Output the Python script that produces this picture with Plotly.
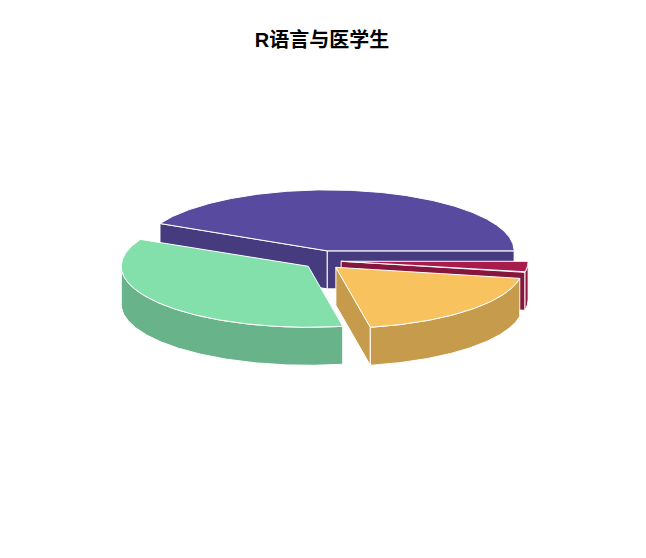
import numpy as np
import plotly.graph_objects as go

# share of each slice in percent (anticlockwise from 3 o'clock)
shares = [42.6, 35.35, 19.15, 2.9]
top_colors = ['#584A9E', '#83E0AB', '#F8C25F', '#A81C4C']
side_colors = ['#463B7E', '#69B38A', '#C69B4C', '#86163D']
title_text = 'R语言与医学生'

# pie geometry, in pixels of the picture
WIDTH, HEIGHT = 646, 558
CENTER_X, CENTER_Y = 322.9, 260.4
RADIUS_X, RADIUS_Y = 187, 61
EXPLODE_X, EXPLODE_Y = 18.3, 9.8
DEPTH = 38


def arc_points(apex: tuple[float, float], start: float, end: float) -> tuple[np.ndarray, np.ndarray]:
    """Return the x and y values of the rim of a slice between two angles given in degrees."""
    angles = np.radians(np.linspace(start, end, max(int(abs(end - start)) * 2, 2)))
    return apex[0] + RADIUS_X * np.cos(angles), apex[1] - RADIUS_Y * np.sin(angles)


def add_polygon(fig: go.Figure, x, y, color: str) -> None:
    """Add one closed, filled polygon with a thin white outline."""
    fig.add_trace(go.Scatter(x=list(x), y=list(y), mode='lines', fill='toself', fillcolor=color,
                             line=dict(color='white', width=1), hoverinfo='skip',
                             showlegend=False))


def add_slice(fig: go.Figure, start: float, end: float, top: str, side: str) -> None:
    """Draw the walls that face the viewer and then the top face of one exploded slice."""
    mid = np.radians((start + end) / 2)
    apex = (CENTER_X + EXPLODE_X * np.cos(mid), CENTER_Y - EXPLODE_Y * np.sin(mid))

    # cut walls: the start edge faces the viewer when cos > 0, the end edge when cos < 0
    for angle, facing in ((start, np.cos(np.radians(start)) > 0),
                          (end, np.cos(np.radians(end)) < 0)):
        if facing:
            rim_x, rim_y = arc_points(apex, angle, angle)
            add_polygon(fig, [apex[0], rim_x[0], rim_x[0], apex[0], apex[0]],
                        [apex[1], rim_y[0], rim_y[0] + DEPTH, apex[1] + DEPTH, apex[1]], side)

    # outer wall: only the part of the rim in the front half can be seen
    front_start, front_end = max(start, 180), min(end, 360)
    if front_start < front_end:
        rim_x, rim_y = arc_points(apex, front_start, front_end)
        add_polygon(fig, np.concatenate([rim_x, rim_x[::-1], rim_x[:1]]),
                    np.concatenate([rim_y, rim_y[::-1] + DEPTH, rim_y[:1]]), side)

    rim_x, rim_y = arc_points(apex, start, end)
    add_polygon(fig, np.concatenate([[apex[0]], rim_x, [apex[0]]]),
                np.concatenate([[apex[1]], rim_y, [apex[1]]]), top)


edges = np.concatenate([[0], np.cumsum(shares)]) / sum(shares) * 360
mids = (edges[:-1] + edges[1:]) / 2

fig = go.Figure()
# back slices first, so the front ones cover them
for i in sorted(range(len(shares)), key=lambda k: -np.sin(np.radians(mids[k]))):
    add_slice(fig, edges[i], edges[i + 1], top_colors[i], side_colors[i])

fig.update_layout(
    width=WIDTH, height=HEIGHT, margin=dict(l=0, r=0, t=0, b=0),
    paper_bgcolor='white', plot_bgcolor='white',
    title=dict(text=f'<b>{title_text}</b>', x=322 / WIDTH, xanchor='center',
               y=1 - 40 / HEIGHT, yanchor='middle',
               font=dict(family='Liberation Sans, Noto Sans CJK SC', size=20, color='black')),
    xaxis=dict(range=[0, WIDTH], visible=False),
    yaxis=dict(range=[HEIGHT, 0], visible=False),
)

fig.write_html('out.html', config={'displayModeBar': False},
               post_script="document.body.style.margin='0';document.body.style.overflow='hidden';")
